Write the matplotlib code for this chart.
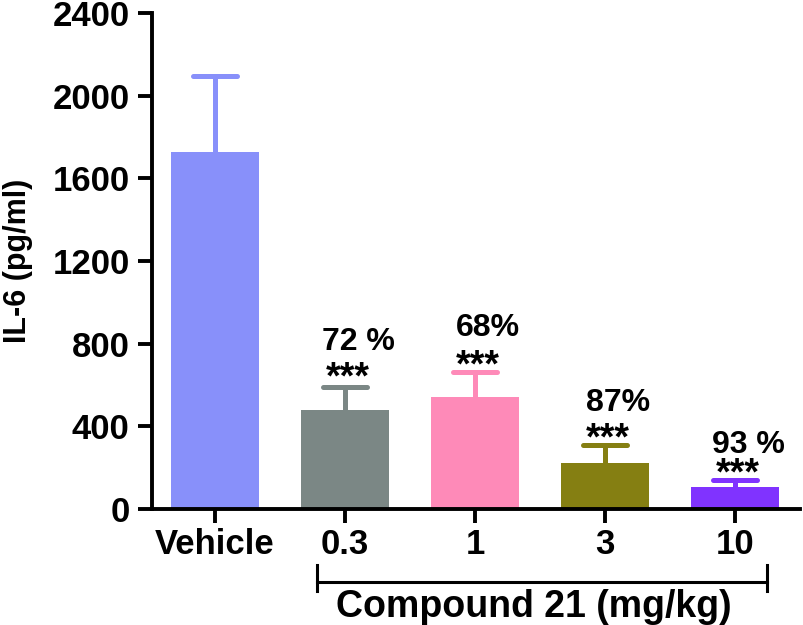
import numpy as np
import matplotlib
matplotlib.use("Agg")
import matplotlib.pyplot as plt
import matplotlib.transforms as mtransforms

plt.rcParams['font.family'] = ['Liberation Sans', 'DejaVu Sans']
plt.rcParams['font.weight'] = 'bold'

groups = ['Vehicle', '0.3', '1', '3', '10']
means = [1727, 479, 542, 222, 106]
errors = [368, 111, 121, 88, 34]
colors = ['#8890fa', '#7b8785', '#fe8ab8', '#857f12', '#8033ff']
inhibition = ['', '72 %', '68%', '87%', '93 %']
stars_y = [None, 663, 721, 368, 198]
pct_y = [None, 808, 876, 513, 310]

fig = plt.figure(figsize=(8.04, 6.25), dpi=100)
ax = fig.add_axes([0.189, 0.1856, 0.806, 0.7934])

x = np.arange(len(groups))
ax.bar(x, means, width=0.67, color=colors, zorder=2)

# upper error bars only, rounded caps
tops = np.array(means) + np.array(errors)
for xi, m, t, c in zip(x, means, tops, colors):
    ax.vlines(xi, m, t, colors=c, linewidth=3.6, zorder=1)
    hl = ax.hlines(t, xi - 0.17, xi + 0.17, colors=c, linewidth=3.6, zorder=1)
    hl.set_capstyle('round')

# significance stars and % inhibition
for xi, s, p, lab in zip(x, stars_y, pct_y, inhibition):
    if s is None:
        continue
    ax.annotate('***', (xi + 0.02, s), xytext=(0, -11.8), textcoords='offset points',
                ha='center', va='baseline', fontsize=27, fontweight='bold')
    ax.text(xi + 0.1, p, lab, ha='center', va='center', fontsize=23, fontweight='bold')

ax.set_ylim(0, 2400)
ax.set_xlim(-0.485, 4.5)
ax.set_yticks(np.arange(0, 2401, 400))
ax.set_xticks(x)
ax.set_xticklabels(groups)
ax.tick_params(axis='both', labelsize=25, width=2.8, length=10, pad=6)
ax.tick_params(axis='x', pad=4)
for lbl in ax.get_xticklabels() + ax.get_yticklabels():
    lbl.set_fontweight('bold')

for side in ['top', 'right']:
    ax.spines[side].set_visible(False)
for side in ['left', 'bottom']:
    ax.spines[side].set_linewidth(2.8)

ax.set_ylabel('IL-6 (pg/ml)', fontsize=22, fontweight='bold')
ax.yaxis.set_label_coords(-0.184, 0.5)

# bracket under the compound doses
trans = mtransforms.blended_transform_factory(ax.transData, ax.transAxes)
bx0, bx1 = 0.785, 4.246
ax.plot([bx0, bx1], [-0.147, -0.147], color='black', linewidth=2.2, transform=trans, clip_on=False)
ax.plot([bx0, bx0], [-0.113, -0.165], color='black', linewidth=2.2, transform=trans, clip_on=False)
ax.plot([bx1, bx1], [-0.113, -0.165], color='black', linewidth=2.2, transform=trans, clip_on=False)
ax.text(2.454, -0.197, 'Compound 21 (mg/kg)', ha='center', va='center',
        fontsize=27, fontweight='bold', transform=trans)

fig.savefig('out.png', dpi=100)
